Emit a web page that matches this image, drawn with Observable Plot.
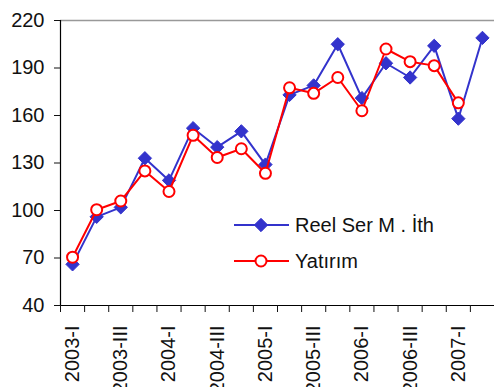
<!DOCTYPE html>
<html>
<head>
<meta charset="utf-8">
<script src="https://cdn.jsdelivr.net/npm/d3@7"></script>
<script src="https://cdn.jsdelivr.net/npm/@observablehq/plot@0.6"></script>
<style>
  body { margin: 0; background: #fff; }
  #chart { position: relative; width: 494px; height: 387px; overflow: hidden;
           font-family: "Liberation Sans", Arial, sans-serif; }
  #legend { position: absolute; left: 0; top: 0; pointer-events: none; }
</style>
</head>
<body>
<div id="chart"></div>
<script>
// Quarterly periods, 2003-I .. 2007-II
const quarters = [
  "2003-I", "2003-II", "2003-III", "2003-IV",
  "2004-I", "2004-II", "2004-III", "2004-IV",
  "2005-I", "2005-II", "2005-III", "2005-IV",
  "2006-I", "2006-II", "2006-III", "2006-IV",
  "2007-I", "2007-II"
];

// Real machinery imports index
const reelSerMIth = [66, 96, 102, 133, 119, 152, 140, 150, 129, 173, 179, 205, 171, 193, 184, 204, 158, 209];

// Investment index (no value yet for 2007-II)
const yatirim = [70.5, 100.5, 106, 125, 112, 147.5, 133.5, 139, 123.5, 177.5, 174, 184, 163, 202, 194, 191.5, 168];

const yTicks = [40, 70, 100, 130, 160, 190, 220];
const seriesNames = ["Reel Ser M . İth", "Yatırım"];
const blue = "#3333cc";
const red = "#ff0000";

// Category index positions; boundaries sit halfway between quarters
const idx = quarters.map((_, i) => i);
const labelIdx = idx.filter(i => i % 2 === 0);
const boundaries = d3.range(quarters.length + 1).map(i => i - 0.5);

const chart = Plot.plot({
  width: 494,
  height: 387,
  marginLeft: 60,
  marginRight: 0,
  marginTop: 20,
  marginBottom: 82,
  style: { fontFamily: "Liberation Sans, Arial, sans-serif", fontSize: "20px", color: "#111", background: "#fff" },
  x: { type: "linear", domain: [-0.5, quarters.length - 0.5] },
  y: { domain: [40, 220] },
  marks: [
    // frame: grey top edge, black axes
    Plot.ruleY([220], { stroke: "#999", strokeWidth: 1.5 }),
    Plot.ruleY([40], { stroke: "#000", strokeWidth: 1.2 }),
    Plot.ruleX([-0.5], { stroke: "#000", strokeWidth: 1.2 }),
    Plot.axisY({ ticks: yTicks, tickSize: 6, tickPadding: 10, label: null, fontSize: 20 }),
    Plot.axisX({ ticks: boundaries, tickSize: 7, tickFormat: () => "", label: null }),
    Plot.axisX({
      ticks: labelIdx, tickSize: 0, tickPadding: 20, tickRotate: -90,
      tickFormat: i => quarters[i], label: null, fontSize: 20
    }),
    // Reel Ser M. İth: blue line with filled diamonds
    Plot.line(reelSerMIth, { x: (d, i) => i, y: d => d, stroke: blue, strokeWidth: 2 }),
    Plot.dot(reelSerMIth, { x: (d, i) => i, y: d => d, symbol: "diamond2", r: 6, fill: blue, stroke: blue, strokeWidth: 1 }),
    // Yatırım: red line with open circles
    Plot.line(yatirim, { x: (d, i) => i, y: d => d, stroke: red, strokeWidth: 2 }),
    Plot.dot(yatirim, { x: (d, i) => i, y: d => d, r: 5.5, fill: "#fff", stroke: red, strokeWidth: 2 })
  ]
});

const root = document.getElementById("chart");
root.appendChild(chart);

// Legend drawn inside the plot area
const ns = "http://www.w3.org/2000/svg";
const leg = document.createElementNS(ns, "svg");
leg.setAttribute("id", "legend");
leg.setAttribute("width", 494);
leg.setAttribute("height", 387);
const rows = [
  { name: seriesNames[0], color: blue, y: 225, marker: "diamond" },
  { name: seriesNames[1], color: red, y: 261, marker: "circle" }
];
for (const r of rows) {
  const line = document.createElementNS(ns, "line");
  line.setAttribute("x1", 234); line.setAttribute("x2", 289);
  line.setAttribute("y1", r.y); line.setAttribute("y2", r.y);
  line.setAttribute("stroke", r.color); line.setAttribute("stroke-width", 2);
  leg.appendChild(line);
  if (r.marker === "diamond") {
    const p = document.createElementNS(ns, "path");
    p.setAttribute("d", d3.symbol(d3.symbolDiamond2, Math.PI * 36)());
    p.setAttribute("transform", `translate(261,${r.y})`);
    p.setAttribute("fill", r.color); p.setAttribute("stroke", r.color);
    leg.appendChild(p);
  } else {
    const c = document.createElementNS(ns, "circle");
    c.setAttribute("cx", 261); c.setAttribute("cy", r.y); c.setAttribute("r", 5.5);
    c.setAttribute("fill", "#fff"); c.setAttribute("stroke", r.color); c.setAttribute("stroke-width", 2);
    leg.appendChild(c);
  }
  const t = document.createElementNS(ns, "text");
  t.setAttribute("x", 295); t.setAttribute("y", r.y + 7);
  t.setAttribute("font-size", 20);
  t.setAttribute("font-family", "Liberation Sans, Arial, sans-serif");
  t.setAttribute("fill", "#111");
  t.textContent = r.name;
  leg.appendChild(t);
}
root.appendChild(leg);
</script>
</body>
</html>
